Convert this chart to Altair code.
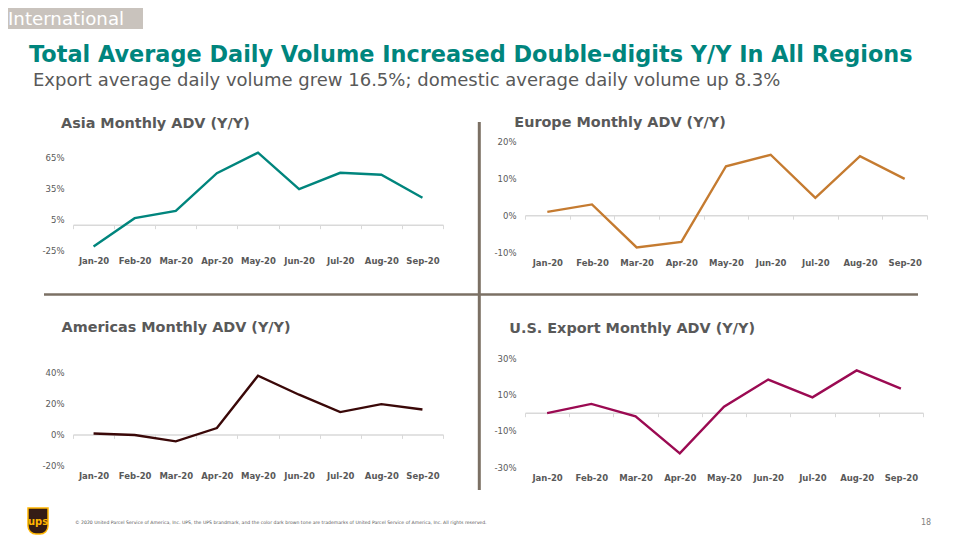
import altair as alt
import pandas as pd

# ---------------- data ----------------
months = ["Jan-20", "Feb-20", "Mar-20", "Apr-20", "May-20", "Jun-20", "Jul-20", "Aug-20", "Sep-20"]
asia = [-21.2, 6.3, 13.4, 49.9, 69.8, 34.4, 50.2, 48.3, 26.0]
europe = [0.9, 2.9, -8.7, -7.2, 13.2, 16.3, 4.7, 15.9, 9.8]
americas = [0.6, -0.4, -4.5, 4.1, 37.9, 25.6, 14.4, 19.5, 16.1]
us_export = [-0.2, 4.8, -2.0, -22.3, 3.3, 18.2, 8.4, 23.2, 13.2]

asia_ticks = [-25, 5, 35, 65]
europe_ticks = [-10, 0, 10, 20]
americas_ticks = [-20, 0, 20, 40]
us_ticks = [-30, -10, 10, 30]

tag_text = "International"
main_title = "Total Average Daily Volume Increased Double-digits Y/Y In All Regions"
sub_title = "Export average daily volume grew 16.5%; domestic average daily volume up 8.3%"
footer_text = ("© 2020 United Parcel Service of America, Inc. UPS, the UPS brandmark, and the color dark brown "
               "tone are trademarks of United Parcel Service of America, Inc. All rights reserved.")
page_no = "18"

FONT = "DejaVu Sans"
GRAY = "#595959"
TEAL = "#00857d"


def text_layer(txt, x, y, size, color, weight="normal", align="left", baseline="alphabetic"):
    return alt.Chart(pd.DataFrame({"t": [txt]})).mark_text(
        align=align, baseline=baseline, fontSize=size, font=FONT, fontWeight=weight, color=color
    ).encode(x=alt.value(x), y=alt.value(y), text="t:N")


def panel(values, color, lo, hi, w, h, ticks, title, tdx, tdy):
    df = pd.DataFrame({"month": months, "value": values})
    dist = h * (-lo) / (hi - lo)  # pixel distance of the zero line from the bottom
    tick_size = 4
    line = alt.Chart(df).mark_line(color=color, strokeWidth=2.4).encode(
        x=alt.X("month:N", sort=months, bandPosition=0.5,
                scale=alt.Scale(type="band", paddingInner=0, paddingOuter=0),
                axis=alt.Axis(title=None, labelAngle=0, labelFont=FONT, labelFontSize=8.5,
                              labelFontWeight="bold", labelColor=GRAY, domainColor="#d9d9d9",
                              domainWidth=1.5, tickColor="#d9d9d9", tickSize=tick_size,
                              tickWidth=1, tickBand="extent", offset=-dist,
                              labelPadding=dist + 6 - tick_size)),
        y=alt.Y("value:Q", scale=alt.Scale(domain=[lo, hi], nice=False, zero=False),
                axis=alt.Axis(title=None, values=ticks, labelExpr="datum.value + '%'",
                              labelFont=FONT, labelFontSize=8.5, labelColor=GRAY, grid=False,
                              domain=False, ticks=False, labelPadding=9)),
    )
    ttl = text_layer(title, tdx, tdy, 14.4, GRAY, weight="bold")
    return line, ttl


# ---- panels ----
a_line, a_ttl = panel(asia, TEAL, -25, 81, 370, 109.5, asia_ticks, "Asia Monthly ADV (Y/Y)", -12, -12.7)
e_line, e_ttl = panel(europe, "#c57b30", -10, 20, 402, 111.3, europe_ticks, "Europe Monthly ADV (Y/Y)", -10.7, -13.7)
m_line, m_ttl = panel(americas, "#3a0808", -20, 49.3, 370, 107.4, americas_ticks, "Americas Monthly ADV (Y/Y)", -11.5, -25.6)
u_line, u_ttl = panel(us_export, "#9b0a52", -30, 30, 398, 109.4, us_ticks, "U.S. Export Monthly ADV (Y/Y)", -15.7, -24.6)

one = pd.DataFrame({"k": [0]})
DIV = "#7b7064"
tag_box = alt.Chart(one).mark_rect(color="#c9c3bd").encode(
    x=alt.value(-65), x2=alt.value(70), y=alt.value(-133), y2=alt.value(-112))
tag_txt = text_layer(tag_text, -65, -116.5, 18.2, "white")
title_txt = text_layer(main_title, -44, -78.7, 22.4, TEAL, weight="bold")
sub_txt = text_layer(sub_title, -40, -55.3, 18, GRAY)
vrule = alt.Chart(one).mark_rule(color=DIV, strokeWidth=3).encode(
    x=alt.value(406.3), y=alt.value(-19), y2=alt.value(349))
hrule = alt.Chart(one).mark_rule(color=DIV, strokeWidth=2.5).encode(
    x=alt.value(-29), x2=alt.value(845), y=alt.value(153.5))
logo = alt.Chart(one).mark_rect(color="#351c15", stroke="#ffb500", strokeWidth=1.5,
                                cornerRadiusBottomLeft=8, cornerRadiusBottomRight=8).encode(
    x=alt.value(-45), x2=alt.value(-25), y=alt.value(367), y2=alt.value(393))
logo_txt = text_layer("ups", -35, 384, 10, "#ffb500", weight="bold", align="center")
foot_txt = text_layer(footer_text, 2, 382.5, 4.6, GRAY)
page_txt = text_layer(page_no, 853, 384, 8, "#7f7f7f", align="center")

asia_chart = alt.layer(a_line, a_ttl, tag_box, tag_txt, title_txt, sub_txt, vrule, hrule,
                       logo, logo_txt, foot_txt, page_txt).properties(width=370, height=109.5)
europe_chart = alt.layer(e_line, e_ttl).properties(width=402, height=111.3)
americas_chart = alt.layer(m_line, m_ttl).properties(width=370, height=107.4)
us_chart = alt.layer(u_line, u_ttl).properties(width=398, height=109.4)

chart = alt.concat(
    asia_chart, europe_chart, americas_chart, us_chart,
    columns=2, spacing={"row": 105, "column": 82}, bounds="flush",
).properties(padding=0, background="white").configure_view(stroke=None)

chart.save("out.html", embed_options={"renderer": "svg", "actions": False})
